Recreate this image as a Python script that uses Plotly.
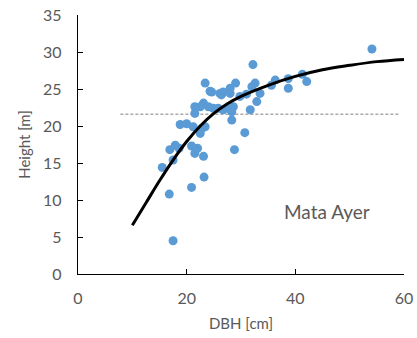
import plotly.graph_objects as go

# Observed trees
dbh = [54.1, 42.1, 41.3, 38.7, 38.7, 36.3, 35.6, 33.5, 32.9, 32.6, 32.0, 32.2, 31.7, 31.0,
       30.7, 29.8, 29.0, 28.0, 28.0, 28.6, 28.3, 28.3, 28.8, 27.4, 26.7, 26.4, 26.7, 25.8,
       24.9, 24.6, 24.0, 23.4, 23.1, 22.5, 21.5, 21.5, 23.4, 22.8, 22.5, 21.2, 20.0, 18.8,
       17.9, 16.9, 18.6, 20.9, 22.0, 21.5, 23.1, 17.5, 15.5, 23.2, 20.9, 16.8, 17.5, 26.1,
       24.3]
height = [30.4, 26.0, 27.0, 26.4, 25.1, 26.2, 25.5, 24.4, 23.3, 25.8, 25.3, 28.3, 22.2, 24.3,
          19.1, 24.0, 25.8, 25.1, 24.4, 22.6, 21.9, 20.8, 16.8, 22.4, 22.2, 24.2, 24.6, 22.4,
          22.4, 24.6, 22.6, 25.8, 23.1, 22.6, 22.6, 21.7, 19.9, 19.7, 19.0, 19.9, 20.3, 20.2,
          17.4, 16.8, 17.0, 17.3, 17.0, 16.3, 15.9, 15.4, 14.4, 13.1, 11.7, 10.8, 4.5, 24.4,
          24.7]

# Fitted height-diameter curve
fit_dbh = [10, 12.5, 15, 17.5, 20, 22.5, 25, 27.5, 30, 35, 40, 45, 50, 55, 60]
fit_height = [6.6, 9.6, 12.6, 15.4, 17.9, 20.0, 21.7, 23.0, 24.0, 25.5, 26.7, 27.6, 28.2, 28.7, 29.0]

# Reference height (dashed)
ref_dbh = [7.8, 59.3]
ref_height = [21.6, 21.6]

x_ticks = [0, 20, 40, 60]
y_ticks = [0, 5, 10, 15, 20, 25, 30, 35]

FONT = "Lato, 'Open Sans', sans-serif"
GREY = "#595959"

fig = go.Figure()
fig.add_trace(go.Scatter(x=ref_dbh, y=ref_height, mode="lines",
                         line=dict(color="#7f7f7f", width=1, dash="3px,2px"),
                         hoverinfo="skip", showlegend=False, cliponaxis=False))
fig.add_trace(go.Scatter(x=dbh, y=height, mode="markers",
                         marker=dict(color="#5B9BD5", size=9, line=dict(width=0)),
                         showlegend=False))
fig.add_trace(go.Scatter(x=fit_dbh, y=fit_height, mode="lines", line_shape="spline",
                         line=dict(color="black", width=3), showlegend=False))

fig.add_annotation(x=45.8, y=8.4, text="Mata Ayer", showarrow=False,
                   font=dict(family=FONT, size=19, color=GREY), xanchor="center", yanchor="middle")

fig.update_layout(
    width=417, height=338,
    margin=dict(l=78, r=13, t=15, b=64),
    paper_bgcolor="white", plot_bgcolor="white",
    font=dict(family=FONT, color=GREY, size=15),
)
fig.update_xaxes(range=[0, 60], tickvals=x_ticks, showgrid=False, zeroline=False,
                 showline=True, linecolor="black", linewidth=1.3, automargin=False,
                 ticks="inside", ticklen=5, tickcolor="black", tickwidth=1.3,
                 tickfont=dict(size=16, color=GREY), ticklabelstandoff=10,
                 ticklabeloverflow="allow",
                 title=dict(text="DBH [cm]", font=dict(size=15, color=GREY), standoff=12))
fig.update_yaxes(range=[0, 35], tickvals=y_ticks, showgrid=False, zeroline=False,
                 showline=True, linecolor="black", linewidth=1.3, automargin=False,
                 ticks="inside", ticklen=5, tickcolor="black", tickwidth=1.3,
                 tickfont=dict(size=16, color=GREY), ticklabelstandoff=12,
                 ticklabeloverflow="allow",
                 title=dict(text="Height [m]", font=dict(size=15, color=GREY), standoff=8))

# Remove the default page margin so the figure fills the 417x338 window exactly.
fig.write_html("out.html", config={"displayModeBar": False},
               post_script="document.body.style.margin='0';document.body.style.overflow='hidden';")
